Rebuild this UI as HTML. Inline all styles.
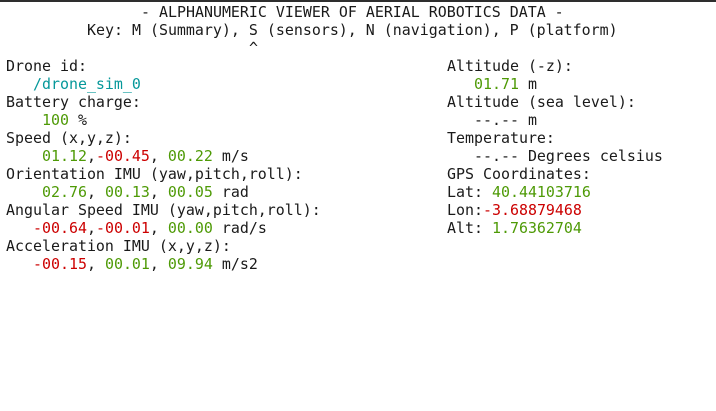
<!DOCTYPE html>
<html><head><meta charset="utf-8"><style>
html,body{margin:0;padding:0;background:#fff;width:716px;height:411px;overflow:hidden}
#top{position:absolute;left:0;top:0;width:716px;height:2px;background:#2e2e2e}
.row{position:absolute;height:18px;line-height:18px;font-family:"DejaVu Sans Mono","Liberation Mono",monospace;font-size:14.95px;color:#1a1a1a;white-space:pre;margin:0}
.g{color:#4e9a06}.r{color:#cc0000}.c{color:#06989a}
</style></head><body>
<div id="top"></div>
<pre class="row" style="left:141px;top:3px">- ALPHANUMERIC VIEWER OF AERIAL ROBOTICS DATA -</pre>
<pre class="row" style="left:87px;top:21px">Key: M (Summary), S (sensors), N (navigation), P (platform)</pre>
<pre class="row" style="left:249px;top:39px">^</pre>

<pre class="row" style="left:6px;top:57px">Drone id:</pre>
<pre class="row" style="left:6px;top:75px">   <span class="c">/drone_sim_0</span></pre>
<pre class="row" style="left:6px;top:93px">Battery charge:</pre>
<pre class="row" style="left:6px;top:111px">    <span class="g">100</span> %</pre>
<pre class="row" style="left:6px;top:129px">Speed (x,y,z):</pre>
<pre class="row" style="left:6px;top:147px">    <span class="g">01.12</span>,<span class="r">-00.45</span>, <span class="g">00.22</span> m/s</pre>
<pre class="row" style="left:6px;top:165px">Orientation IMU (yaw,pitch,roll):</pre>
<pre class="row" style="left:6px;top:183px">    <span class="g">02.76</span>, <span class="g">00.13</span>, <span class="g">00.05</span> rad</pre>
<pre class="row" style="left:6px;top:201px">Angular Speed IMU (yaw,pitch,roll):</pre>
<pre class="row" style="left:6px;top:219px">   <span class="r">-00.64</span>,<span class="r">-00.01</span>, <span class="g">00.00</span> rad/s</pre>
<pre class="row" style="left:6px;top:237px">Acceleration IMU (x,y,z):</pre>
<pre class="row" style="left:6px;top:255px">   <span class="r">-00.15</span>, <span class="g">00.01</span>, <span class="g">09.94</span> m/s2</pre>

<pre class="row" style="left:447px;top:57px">Altitude (-z):</pre>
<pre class="row" style="left:447px;top:75px">   <span class="g">01.71</span> m</pre>
<pre class="row" style="left:447px;top:93px">Altitude (sea level):</pre>
<pre class="row" style="left:447px;top:111px">   --.-- m</pre>
<pre class="row" style="left:447px;top:129px">Temperature:</pre>
<pre class="row" style="left:447px;top:147px">   --.-- Degrees celsius</pre>
<pre class="row" style="left:447px;top:165px">GPS Coordinates:</pre>
<pre class="row" style="left:447px;top:183px">Lat: <span class="g">40.44103716</span></pre>
<pre class="row" style="left:447px;top:201px">Lon:<span class="r">-3.68879468</span></pre>
<pre class="row" style="left:447px;top:219px">Alt: <span class="g">1.76362704</span></pre>
</body></html>
